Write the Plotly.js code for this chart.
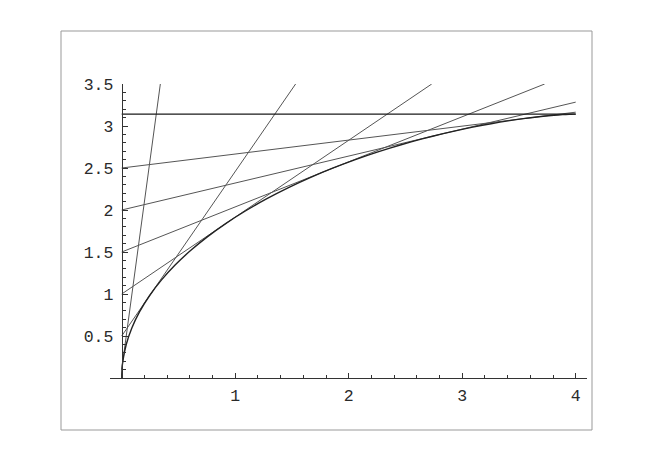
<!DOCTYPE html>
<html>
<head>
<meta charset="utf-8">
<script src="https://cdn.plot.ly/plotly-3.0.1.min.js"></script>
<style>html,body{margin:0;padding:0;background:#fff;}#chart{width:654px;height:462px;}</style>
</head>
<body>
<div id="chart"></div>
<script>
// Curve points
var curveX = [0, 0.0025, 0.0100, 0.0399, 0.0893, 0.1579, 0.2448, 0.3493, 0.4703, 0.6066, 0.7568, 0.9194, 1.0928, 1.2753, 1.4650, 1.6601, 1.8585, 2.0584, 2.2577, 2.4544, 2.6466, 2.8323, 3.0097, 3.1770, 3.3326, 3.4748, 3.6023, 3.7138, 3.8081, 3.8844, 3.9419, 3.9800, 4.0000];
var curveY = [0, 0.1000, 0.1998, 0.3987, 0.5955, 0.7894, 0.9794, 1.1646, 1.3442, 1.5174, 1.6833, 1.8415, 1.9912, 2.1320, 2.2636, 2.3854, 2.4975, 2.5996, 2.6917, 2.7738, 2.8463, 2.9093, 2.9632, 3.0085, 3.0457, 3.0755, 3.0985, 3.1155, 3.1274, 3.1350, 3.1393, 3.1411, 3.1416];

// Straight lines: start at x = 0 with these heights, end at the given points
var lineStartY = [0.1, 0.5, 1.0, 1.5, 2.0, 2.5, 3.1416];
var lineEndX   = [0.3403, 1.5321, 2.7315, 3.7264, 4.0, 4.0, 4.0];
var lineEndY   = [3.5, 3.5, 3.5, 3.5, 3.2842, 3.1645, 3.1416];

var xTicks = [1, 2, 3, 4];
var xTickText = ['1', '2', '3', '4'];
var yTicks = [0.5, 1, 1.5, 2, 2.5, 3, 3.5];
var yTickText = ['0.5', '1', '1.5', '2', '2.5', '3', '3.5'];

var traces = [];
for (var i = 0; i < lineStartY.length; i++) {
  var horiz = (i === lineStartY.length - 1);
  traces.push({
    x: [0, lineEndX[i]],
    y: [lineStartY[i], lineEndY[i]],
    mode: 'lines',
    type: 'scatter',
    line: {color: horiz ? '#1a1a1a' : '#555555', width: horiz ? 1.2 : 1},
    hoverinfo: 'skip',
    showlegend: false,
    cliponaxis: true
  });
}
traces.push({
  x: curveX, y: curveY, mode: 'lines', type: 'scatter',
  line: {color: '#222222', width: 1.4, shape: 'spline', smoothing: 0.6},
  hoverinfo: 'skip', showlegend: false
});

var xmin = -0.1031, xmax = 4.0995;
var fontTick = {family: '"Liberation Mono", "Courier New", monospace', size: 16.5, color: '#2a2a2a'};

var layout = {
  width: 654, height: 462,
  margin: {l: 110, r: 67, t: 84, b: 84, pad: 0},
  paper_bgcolor: '#ffffff', plot_bgcolor: '#ffffff',
  showlegend: false,
  xaxis: {
    range: [xmin, xmax], showgrid: false, zeroline: false,
    showline: true, linecolor: '#333', linewidth: 1,
    tickmode: 'array', tickvals: xTicks, ticktext: xTickText,
    ticks: 'inside', ticklen: 5, tickcolor: '#333', tickwidth: 1,
    minor: {tickmode: 'linear', tick0: 0, dtick: 0.2, ticks: 'inside', ticklen: 3, tickcolor: '#333', tickwidth: 1, showgrid: false},
    tickfont: fontTick, ticklabelstandoff: 2
  },
  yaxis: {
    range: [0, 3.5], showgrid: false, zeroline: false,
    anchor: 'free', position: (0 - xmin) / (xmax - xmin),
    showline: true, linecolor: '#333', linewidth: 1,
    tickmode: 'array', tickvals: yTicks, ticktext: yTickText,
    ticks: 'inside', ticklen: 5, tickcolor: '#333', tickwidth: 1,
    minor: {tickmode: 'linear', tick0: 0, dtick: 0.1, ticks: 'inside', ticklen: 3, tickcolor: '#333', tickwidth: 1, showgrid: false},
    tickfont: fontTick, ticklabelstandoff: 5
  },
  shapes: [{
    type: 'rect', xref: 'paper', yref: 'paper',
    x0: (61 - 110) / 477, x1: (592 - 110) / 477,
    y0: (462 - 84 - 430) / 294, y1: (462 - 84 - 31) / 294,
    line: {color: '#999999', width: 1}, fillcolor: 'rgba(0,0,0,0)', layer: 'below'
  }]
};

Plotly.newPlot('chart', traces, layout, {staticPlot: true, displayModeBar: false});
</script>
</body>
</html>
